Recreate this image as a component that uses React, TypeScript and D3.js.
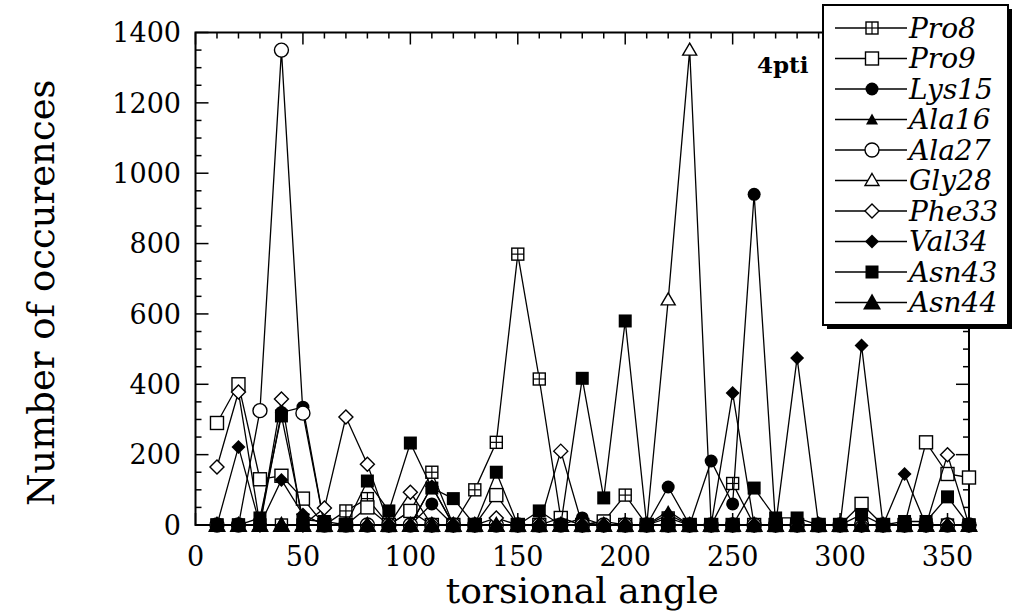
import React from "react";
import * as d3 from "d3";

const ANGLES = [10,20,30,40,50,60,70,80,90,100,110,120,130,140,150,160,170,180,190,200,210,220,230,240,250,260,270,280,290,300,310,320,330,340,350,360];

const pro8  = [0,0,0,0,0,0,40,75,0,40,150,0,100,235,770,415,20,0,10,85,0,20,0,0,118,0,0,0,0,0,0,0,0,0,0,0];
const pro9  = [290,400,130,140,75,0,0,50,0,40,0,0,0,85,0,0,20,0,10,0,0,0,0,0,0,0,0,0,0,0,60,0,0,235,145,135];
const lys15 = [0,0,0,320,335,0,0,0,0,0,60,0,0,0,0,0,0,20,0,0,0,108,0,182,60,940,0,0,0,0,0,0,0,0,0,0];
const ala16 = [0,0,0,0,0,0,0,0,0,0,110,0,0,0,0,0,0,0,0,0,0,40,0,0,0,0,0,0,0,0,0,0,0,0,0,0];
const ala27 = [0,0,325,1350,318,0,0,0,0,0,0,0,0,0,0,0,0,0,0,0,0,0,0,0,0,0,0,0,0,0,0,0,0,0,0,0];
const gly28 = [0,0,0,0,0,0,0,0,0,0,0,0,0,0,0,0,0,0,0,0,0,640,1350,0,0,0,0,0,0,0,0,0,0,0,0,0];
const phe33 = [165,378,0,358,0,48,307,173,0,93,0,0,0,20,0,0,210,0,0,0,0,0,0,0,0,0,0,0,0,0,0,0,0,0,200,0];
const val34 = [0,222,0,128,30,0,0,0,0,0,110,0,0,0,0,0,0,0,0,0,0,30,0,0,375,0,0,475,0,0,510,0,145,0,0,0];
const asn43 = [0,0,20,310,15,10,0,125,40,233,105,75,0,150,0,40,0,417,77,580,0,0,0,0,0,105,20,20,0,0,30,0,10,10,80,0];
const asn44 = [0,0,0,0,0,0,0,0,0,0,0,0,0,0,0,0,0,0,0,0,0,0,0,0,0,0,0,0,0,0,0,0,0,0,0,0];

const SERIES_NAMES = ["Pro8","Pro9","Lys15","Ala16","Ala27","Gly28","Phe33","Val34","Asn43","Asn44"];
const SERIES_VALUES = [pro8,pro9,lys15,ala16,ala27,gly28,phe33,val34,asn43,asn44];
const MARKERS = ["crossSquare","square","dot","smallTri","circle","openTri","openDiamond","diamond","filledSquare","bigTri"];

const Y_TICKS = [0,200,400,600,800,1000,1200,1400];
const X_TICKS = [0,50,100,150,200,250,300,350];

function Marker({ kind, x, y }: { kind: string; x: number; y: number }) {
  const sw = 1.4;
  switch (kind) {
    case "crossSquare":
      return (
        <g>
          <rect x={x - 6} y={y - 6} width={12} height={12} fill="#fff" stroke="#000" strokeWidth={sw} />
          <line x1={x} y1={y - 6} x2={x} y2={y + 6} stroke="#000" strokeWidth={1.2} />
          <line x1={x - 6} y1={y} x2={x + 6} y2={y} stroke="#000" strokeWidth={1.2} />
        </g>
      );
    case "square":
      return <rect x={x - 6.5} y={y - 6.5} width={13} height={13} fill="#fff" stroke="#000" strokeWidth={sw} />;
    case "dot":
      return <circle cx={x} cy={y} r={6.5} fill="#000" />;
    case "smallTri":
      return <path d={`M${x},${y - 6}L${x + 6},${y + 5}L${x - 6},${y + 5}Z`} fill="#000" />;
    case "circle":
      return <circle cx={x} cy={y} r={7} fill="#fff" stroke="#000" strokeWidth={sw} />;
    case "openTri":
      return <path d={`M${x},${y - 7}L${x + 7},${y + 5}L${x - 7},${y + 5}Z`} fill="#fff" stroke="#000" strokeWidth={sw} />;
    case "openDiamond":
      return <path d={`M${x},${y - 7}L${x + 7},${y}L${x},${y + 7}L${x - 7},${y}Z`} fill="#fff" stroke="#000" strokeWidth={sw} />;
    case "diamond":
      return <path d={`M${x},${y - 7}L${x + 7},${y}L${x},${y + 7}L${x - 7},${y}Z`} fill="#000" />;
    case "filledSquare":
      return <rect x={x - 6.5} y={y - 6.5} width={13} height={13} fill="#000" />;
    case "bigTri":
      return <path d={`M${x},${y - 9}L${x + 9},${y + 7}L${x - 9},${y + 7}Z`} fill="#000" />;
  }
  return null;
}

export default function App() {
  const W = 1016, H = 613;
  const L = 195.5, R = 969, T = 32.5, B = 525;
  const x = d3.scaleLinear().domain([0, 360]).range([L, R]);
  const y = d3.scaleLinear().domain([0, 1400]).range([B, T]);
  const line = d3.line<number>().x((_, i) => x(ANGLES[i])).y((v) => y(v));

  const xMinor = d3.range(0, 361, 10);
  const yMinor = d3.range(0, 1401, 50);

  const font = "'DejaVu Serif', serif";

  const legX = 823, legY = 5, legW = 185, legH = 320;
  const legStep = 30.5;

  return (
    <svg width={W} height={H} style={{ position: "absolute", left: 0, top: 0, background: "#fff" }}>
      <rect x={0} y={0} width={W} height={H} fill="#fff" />
      {/* frame */}
      <rect x={L} y={T} width={R - L} height={B - T} fill="none" stroke="#000" strokeWidth={2} />
      {/* ticks */}
      {xMinor.map((t) => {
        const big = t % 50 === 0;
        const len = big ? 12 : 6;
        return (
          <g key={"xt" + t}>
            <line x1={x(t)} x2={x(t)} y1={T} y2={T + len} stroke="#000" strokeWidth={1.5} />
            <line x1={x(t)} x2={x(t)} y1={B} y2={B - len} stroke="#000" strokeWidth={1.5} />
          </g>
        );
      })}
      {yMinor.map((t) => {
        const big = t % 200 === 0;
        const len = big ? 13 : 6;
        return (
          <g key={"yt" + t}>
            <line x1={L} x2={L + len} y1={y(t)} y2={y(t)} stroke="#000" strokeWidth={1.5} />
            <line x1={R} x2={R - len} y1={y(t)} y2={y(t)} stroke="#000" strokeWidth={1.5} />
          </g>
        );
      })}
      {/* tick labels */}
      {Y_TICKS.map((t) => (
        <text key={"yl" + t} x={181} y={y(t)} dy="0.36em" textAnchor="end" fontFamily={font} fontSize={27}>
          {t}
        </text>
      ))}
      {X_TICKS.map((t) => (
        <text key={"xl" + t} x={x(t)} y={566} textAnchor="middle" fontFamily={font} fontSize={27}>
          {t}
        </text>
      ))}
      {/* axis titles */}
      <text x={(L + R) / 2} y={603} textAnchor="middle" fontFamily={font} fontSize={36}>
        torsional angle
      </text>
      <text transform={`translate(54, ${(T + B) / 2 + 14}) rotate(-90)`} textAnchor="middle" fontFamily={font} fontSize={37}>
        Number of occurences
      </text>
      {/* series */}
      {SERIES_VALUES.map((vals, si) => (
        <g key={"s" + si}>
          <path d={line(vals) || ""} fill="none" stroke="#000" strokeWidth={1.3} />
          {vals.map((v, i) => (
            <Marker key={i} kind={MARKERS[si]} x={x(ANGLES[i])} y={y(v)} />
          ))}
        </g>
      ))}
      <text x={757} y={73} fontFamily={font} fontSize={23} fontWeight="bold">
        4pti
      </text>
      {/* legend */}
      <rect x={legX + 4} y={legY + 4} width={legW} height={legH} fill="#000" />
      <rect x={legX} y={legY} width={legW} height={legH} fill="#fff" stroke="#000" strokeWidth={2} />
      {SERIES_NAMES.map((name, i) => {
        const ly = legY + 23 + i * legStep;
        return (
          <g key={"lg" + i}>
            <line x1={835} x2={907} y1={ly} y2={ly} stroke="#000" strokeWidth={1.3} />
            <Marker kind={MARKERS[i]} x={872} y={ly} />
            <text x={909} y={ly} dy="0.35em" fontFamily={font} fontStyle="italic" fontSize={28}>
              {name}
            </text>
          </g>
        );
      })}
    </svg>
  );
}
